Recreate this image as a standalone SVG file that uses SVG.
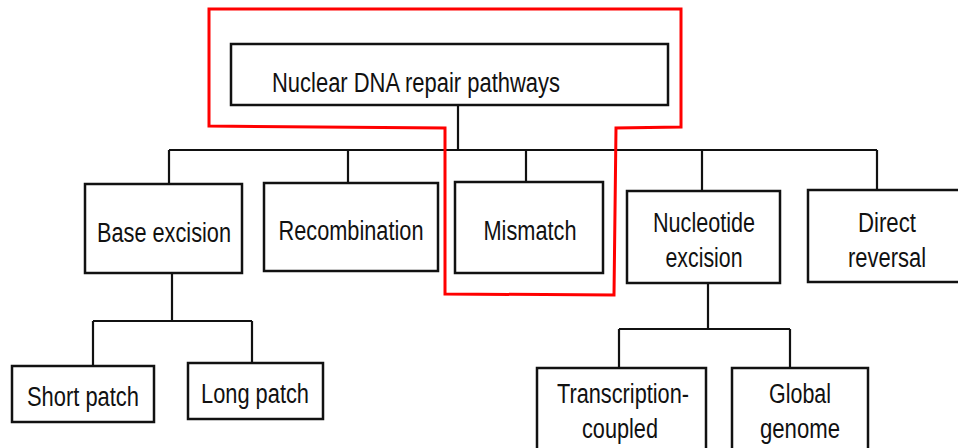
<svg xmlns="http://www.w3.org/2000/svg" width="958" height="448" viewBox="0 0 958 448">
<style>
.box{fill:#fff;stroke:#111;stroke-width:2.5}
.ln{fill:none;stroke:#111;stroke-width:2.2}
text{font-family:"Liberation Sans Narrow","Liberation Sans",Arial,sans-serif;font-size:27px;fill:#111;text-anchor:middle}
</style>
<rect width="958" height="448" fill="#fff"/>
<g id="connectors">
<path class="ln" d="M458 105V150M169 150H877M169 150V184M348 150V183M526 150V182M702 150V191M877 150V190"/>
<path class="ln" d="M172 273V321M93 321H252M93 321V366M252 321V363"/>
<path class="ln" d="M708 283V329M619 329H790M619 329V368M790 329V368"/>
</g>
<g id="root"><rect class="box" x="231" y="44" width="437" height="61"/><text x="416" y="92" textLength="288" lengthAdjust="spacingAndGlyphs">Nuclear DNA repair pathways</text></g>
<g id="base"><rect class="box" x="85" y="184" width="157" height="89"/><text x="164" y="242" textLength="134" lengthAdjust="spacingAndGlyphs">Base excision</text></g>
<g id="recomb"><rect class="box" x="264" y="183" width="174" height="88"/><text x="351" y="240" textLength="145" lengthAdjust="spacingAndGlyphs">Recombination</text></g>
<g id="mismatch"><rect class="box" x="455" y="182" width="148" height="91"/><text x="530" y="240" textLength="93" lengthAdjust="spacingAndGlyphs">Mismatch</text></g>
<g id="nucleotide"><rect class="box" x="627" y="191" width="153" height="92"/><text x="704" y="232" textLength="102" lengthAdjust="spacingAndGlyphs">Nucleotide</text><text x="704" y="267" textLength="77" lengthAdjust="spacingAndGlyphs">excision</text></g>
<g id="direct"><rect class="box" x="808" y="190" width="160" height="92"/><text x="887" y="232" textLength="58" lengthAdjust="spacingAndGlyphs">Direct</text><text x="887" y="267" textLength="78" lengthAdjust="spacingAndGlyphs">reversal</text></g>
<g id="short"><rect class="box" x="12" y="366" width="142" height="56"/><text x="83" y="406" textLength="112" lengthAdjust="spacingAndGlyphs">Short patch</text></g>
<g id="long"><rect class="box" x="188" y="363" width="135" height="56"/><text x="255" y="403" textLength="108" lengthAdjust="spacingAndGlyphs">Long patch</text></g>
<g id="tc"><rect class="box" x="537" y="368" width="169" height="90"/><text x="623" y="403" textLength="132" lengthAdjust="spacingAndGlyphs">Transcription-</text><text x="620" y="438" textLength="76" lengthAdjust="spacingAndGlyphs">coupled</text></g>
<g id="global"><rect class="box" x="732" y="368" width="136" height="90"/><text x="800" y="403" textLength="62" lengthAdjust="spacingAndGlyphs">Global</text><text x="800" y="438" textLength="80" lengthAdjust="spacingAndGlyphs">genome</text></g>
<g id="highlight"><path d="M209 9H681V127L616 128L614 295L445 294V128L209 126Z" fill="none" stroke="#f00" stroke-width="3"/></g>
</svg>
